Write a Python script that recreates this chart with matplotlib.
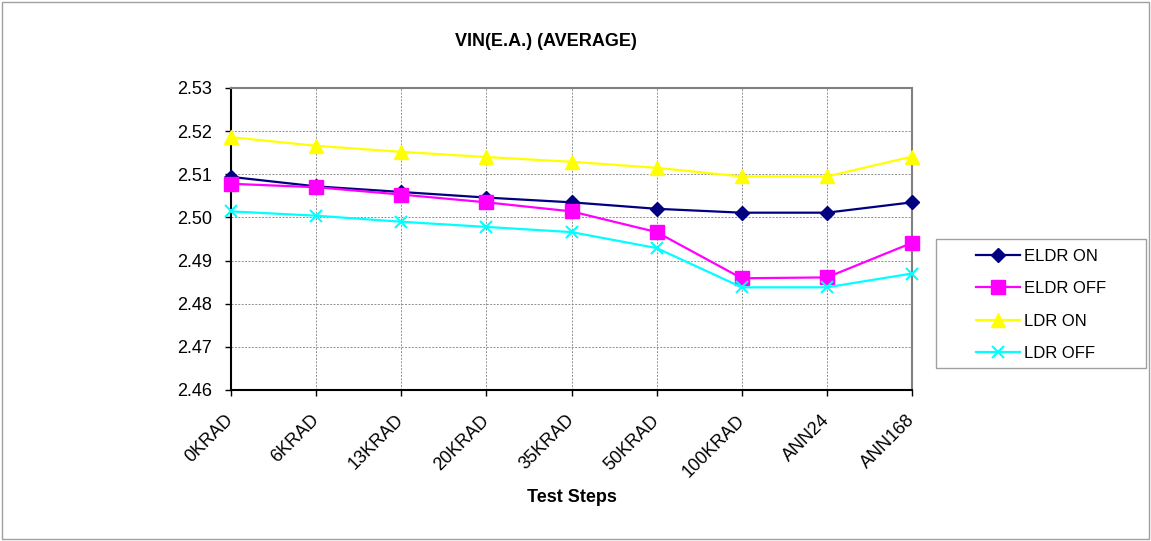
import matplotlib
matplotlib.use("Agg")
import matplotlib.pyplot as plt
from matplotlib.patches import Rectangle

plt.rcParams['font.family'] = ['Liberation Sans', 'DejaVu Sans']

steps = ["0KRAD", "6KRAD", "13KRAD", "20KRAD", "35KRAD", "50KRAD", "100KRAD", "ANN24", "ANN168"]
eldr_on = [2.5094, 2.5072, 2.5059, 2.5046, 2.5035, 2.5020, 2.5011, 2.5011, 2.5035]
eldr_off = [2.5078, 2.5070, 2.5053, 2.5035, 2.5014, 2.4966, 2.4859, 2.4861, 2.4941]
ldr_on = [2.5186, 2.5166, 2.5152, 2.5140, 2.5129, 2.5115, 2.5095, 2.5095, 2.5141]
ldr_off = [2.5014, 2.5004, 2.4990, 2.4978, 2.4966, 2.4929, 2.4838, 2.4838, 2.4870]
yticks = [2.46, 2.47, 2.48, 2.49, 2.50, 2.51, 2.52, 2.53]

W, H = 1151, 541
fig = plt.figure(figsize=(W/100, H/100), dpi=100)
fig.patch.set_facecolor('white')
fig.add_artist(Rectangle((0.002, 0.004), 0.996, 0.992, transform=fig.transFigure,
                         fill=False, edgecolor='#a0a0a0', linewidth=1))
ax = fig.add_axes([231/W, 1-390/H, (912-231)/W, (390-88)/H])

x = list(range(len(steps)))
kw = dict(linewidth=1.6, clip_on=False, zorder=3)
ax.plot(x, eldr_on, color='#000080', marker='D', markersize=7, label='ELDR ON', **kw)
ax.plot(x, eldr_off, color='#ff00ff', marker='s', markersize=10, label='ELDR OFF', **kw)
ax.plot(x, ldr_on, color='#ffff00', marker='^', markersize=10, label='LDR ON', **kw)
ax.plot(x, ldr_off, color='#00ffff', marker='x', markersize=9, markeredgewidth=1.5,
        label='LDR OFF', **kw)

ax.set_xlim(0, len(steps)-1)
ax.set_ylim(2.46, 2.53)
ax.set_yticks(yticks)
ax.set_yticklabels([f"{v:.2f}" for v in yticks], fontsize=13)
ax.set_xticks(x)
ax.set_xticklabels(steps, rotation=45, ha='right', va='center', rotation_mode='anchor', fontsize=13)
ax.grid(True, color='#909090', linestyle=(0, (2, 1.5)), linewidth=0.7)
ax.set_axisbelow(True)
for s in ['top', 'right']:
    ax.spines[s].set_color('#808080')
    ax.spines[s].set_linewidth(1.5)
for s in ['left', 'bottom']:
    ax.spines[s].set_color('black')
    ax.spines[s].set_linewidth(1.5)
ax.tick_params(axis='y', direction='out', length=4, width=1, pad=9.5)
ax.tick_params(axis='x', direction='out', length=4, width=1, pad=16)

fig.text(546/W, 1 - 42/H, "VIN(E.A.) (AVERAGE)", ha='center', va='center',
         fontsize=13, fontweight='bold')
fig.text(572/W, 1 - 498/H, "Test Steps", ha='center', va='center',
         fontsize=13, fontweight='bold')

fig.add_artist(Rectangle((936/W, 1-368/H), (1146-936)/W, (368-239)/H, transform=fig.transFigure,
                         fill=False, edgecolor='#a0a0a0', linewidth=1))
leg = ax.legend(loc='center left', bbox_to_anchor=(976/W, 1 - 305/H),
                bbox_transform=fig.transFigure, fontsize=12, frameon=False,
                borderpad=0, labelspacing=1.05, handlelength=2.65, handletextpad=0.25,
                borderaxespad=0)

fig.savefig("out.png", dpi=100)
